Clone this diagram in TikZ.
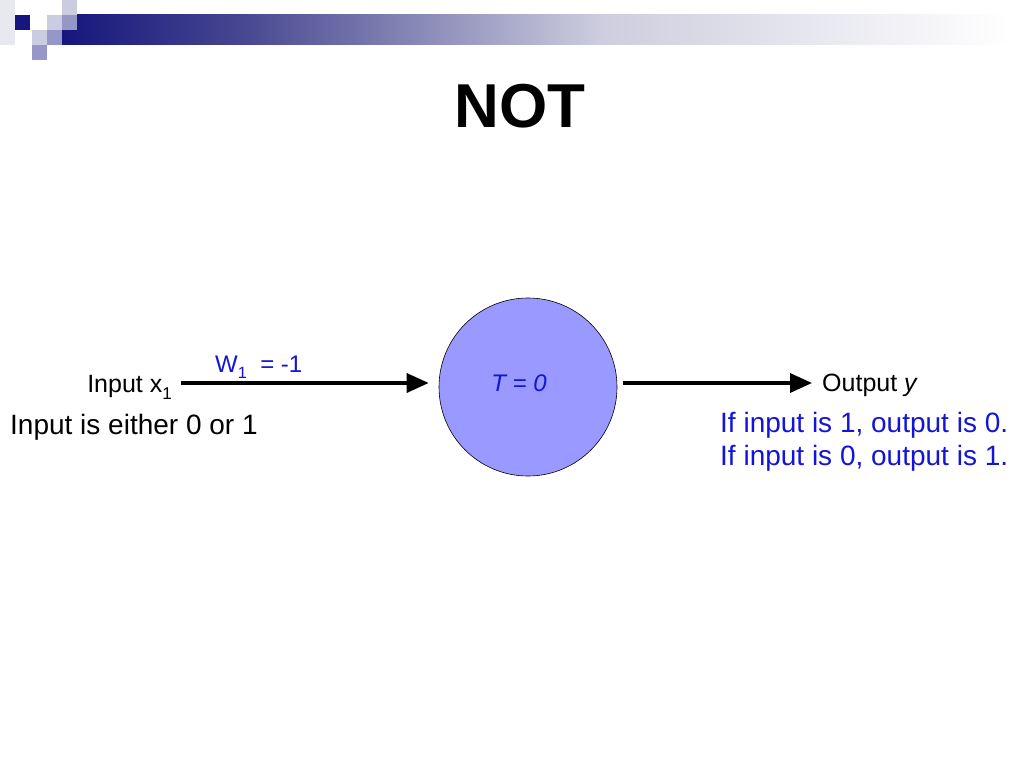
\documentclass[tikz,border=0pt]{standalone}
\usepackage{fontspec}
\setmainfont{Liberation Sans}
\usetikzlibrary{arrows.meta}
\definecolor{navy}{RGB}{22,22,124}
\definecolor{midnavy}{RGB}{70,70,145}
\definecolor{lav}{RGB}{205,205,222}
\definecolor{sqlight}{RGB}{204,204,224}
\definecolor{sqmed}{RGB}{150,150,200}
\definecolor{sqfaint}{RGB}{232,232,240}
\definecolor{txtblue}{RGB}{20,20,215}
\definecolor{neuronfill}{RGB}{153,153,255}
\newcommand{\sbs}[1]{\raisebox{-0.28em}{\scalebox{0.68}{#1}}}
\tikzset{
  lbl/.style={inner sep=0pt, font=\fontsize{25}{29}\selectfont},
  big/.style={inner sep=0pt, font=\fontsize{28}{33}\selectfont},
  arr/.style={line width=3.5pt, -{Triangle[length=22pt,width=19pt]}},
  sq/.style={draw=none}
}
\begin{document}
\begin{tikzpicture}[x=1pt,y=-1pt]
\useasboundingbox (0,0) rectangle (1024,768);
\fill[white] (0,0) rectangle (1024,768);
% header bar
\shade[left color=navy,right color=midnavy] (62,15) rectangle (240,45);
\shade[left color=midnavy,right color=lav] (240,15) rectangle (600,45);
\shade[left color=lav,right color=white] (600,15) rectangle (1010,45);
% squares
\fill[sqfaint] (0,0) rectangle (15,45);
\fill[navy] (15,15) rectangle (30,30);
\fill[sqlight] (62,0) rectangle (77,15);
\fill[sqlight] (47,15) rectangle (62,30);
\fill[sqmed] (62,15) rectangle (77,30);
\fill[sqlight] (32,30) rectangle (47,45);
\fill[sqmed] (47,30) rectangle (62,45);
\fill[sqmed] (32,45) rectangle (47,60);
% title
\node[inner sep=0pt, anchor=base, font=\fontsize{62}{70}\selectfont\bfseries] (title) at (520,127) {NOT};
% neuron
\node[circle, draw=black, line width=0.6pt, fill=neuronfill, minimum size=178pt, inner sep=0pt] (neuron) at (528,387) {};
\node[lbl, anchor=base, text=txtblue, font=\fontsize{24}{28}\selectfont\itshape] (T) at (519,391) {T = 0};
% labels
\node[lbl, anchor=base east] (inx) at (172,392) {Input x\sbs{1}};
\node[lbl, anchor=base west, text=txtblue, font=\fontsize{24}{28}\selectfont] (w) at (215,372) {W\sbs{1}\ \ = -1};
\node[lbl, anchor=base west] (out) at (822,391) {Output \textit{y}};
\node[big, anchor=base west] (either) at (10,434) {Input is either 0 or 1};
\node[big, anchor=base west, text=txtblue] (r1) at (720,432) {If input is 1, output is 0.};
\node[big, anchor=base west, text=txtblue] (r2) at (720,465) {If input is 0, output is 1.};
% connectors
\coordinate (s1) at (181,383);
\coordinate (e2) at (812,383);
\draw[arr, shorten >=10pt] (s1) -- (s1 -| neuron.west);
\draw[arr, shorten <=6pt] (e2 -| neuron.east) -- (e2);
\end{tikzpicture}
\end{document}
